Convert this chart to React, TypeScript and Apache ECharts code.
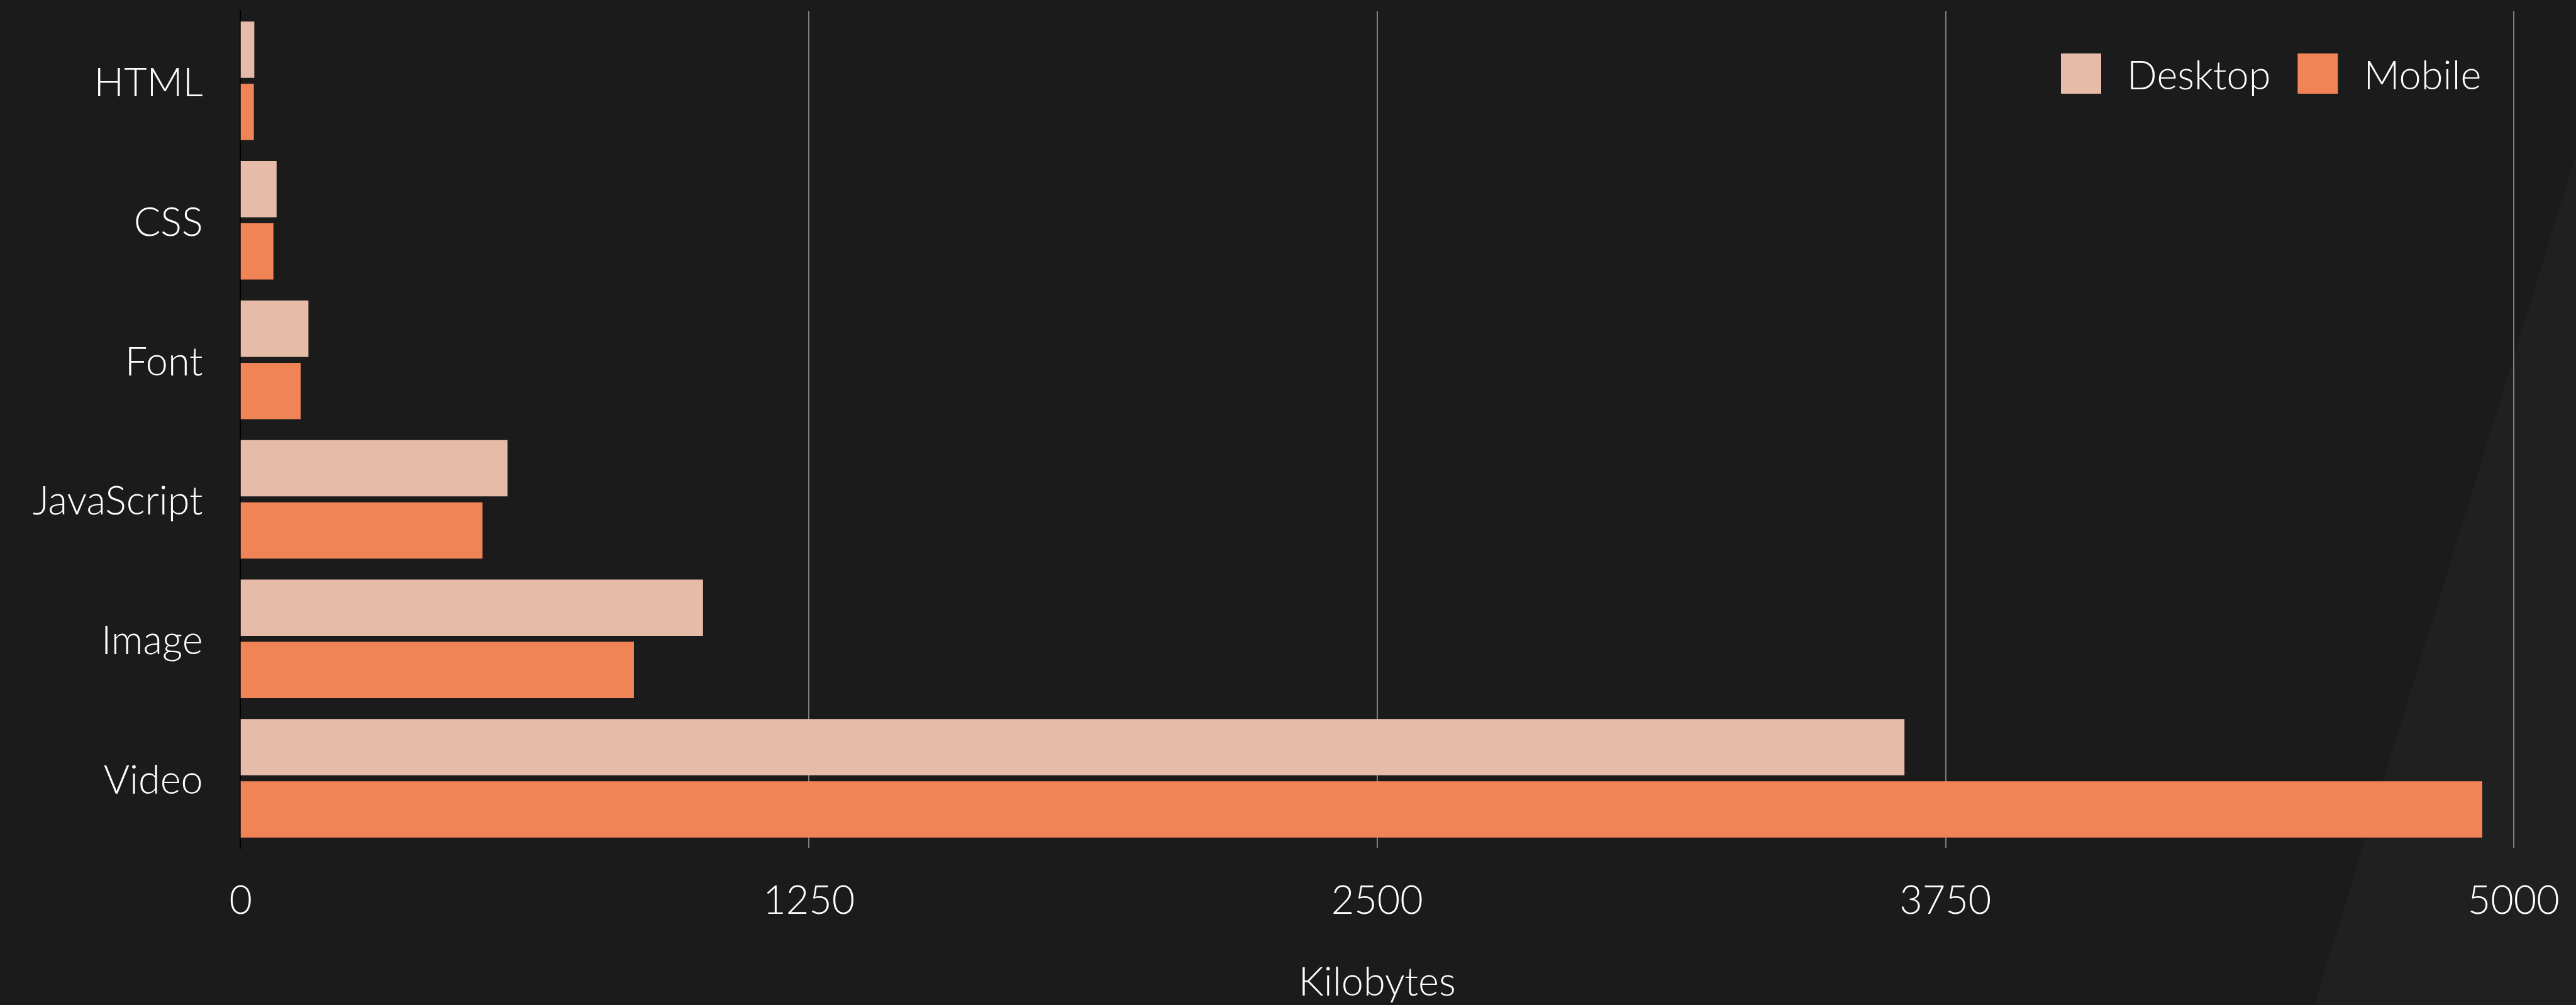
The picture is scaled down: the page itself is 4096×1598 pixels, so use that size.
import React, { useEffect, useRef } from "react";
import * as echarts from "echarts";

// Page weight per resource type, in kilobytes
const categories = ["HTML", "CSS", "Font", "JavaScript", "Image", "Video"];
const desktopKB = [30, 79, 149, 587, 1017, 3660];
const mobileKB = [29, 72, 132, 532, 865, 4931];
const seriesNames = ["Desktop", "Mobile"];
const xTicks = [0, 1250, 2500, 3750, 5000];

const W = 4096;
const H = 1598;
const FONT = "Lato, 'Noto Sans', sans-serif";
const FONT_SIZE = 63;
const TEXT = "#ffffff";
const BG = "#1b1b1b";
const DESKTOP_COLOR = "#e6bba8";
const MOBILE_COLOR = "#f08457";

export default function App() {
  const ref = useRef<HTMLDivElement>(null);

  useEffect(() => {
    if (!ref.current) return;
    const chart = echarts.init(ref.current, null, { renderer: "svg", width: W, height: H });

    const option = {
      animation: false,
      backgroundColor: BG,
      textStyle: { fontFamily: FONT },
      graphic: [
        {
          // lighter diagonal panel in the lower right corner
          type: "polygon",
          z: -10,
          silent: true,
          shape: {
            points: [
              [3680, 1598],
              [4096, 245],
              [4096, 1598],
            ],
          },
          style: { fill: "#202020" },
        },
      ],
      legend: {
        left: 3272,
        top: 80,
        itemWidth: 64,
        itemHeight: 64,
        itemGap: 43,
        icon: "rect",
        data: seriesNames,
        textStyle: {
          color: TEXT,
          fontFamily: FONT,
          fontSize: FONT_SIZE,
          fontWeight: 300,
          padding: [0, 0, 0, 36],
        },
      },
      grid: {
        left: 382.7,
        right: 99.2,
        top: 17.6,
        bottom: 249.5,
        containLabel: false,
      },
      xAxis: {
        type: "value",
        min: xTicks[0],
        max: xTicks[xTicks.length - 1],
        interval: xTicks[1] - xTicks[0],
        name: "Kilobytes",
        nameLocation: "middle",
        nameGap: 178,
        nameTextStyle: {
          color: TEXT,
          fontFamily: FONT,
          fontSize: FONT_SIZE,
          fontWeight: 300,
          lineHeight: FONT_SIZE,
        },
        axisLine: { show: false },
        axisTick: { show: false },
        axisLabel: {
          color: TEXT,
          fontFamily: FONT,
          fontSize: FONT_SIZE,
          fontWeight: 300,
          lineHeight: FONT_SIZE,
          margin: 48,
          formatter: (v: number) => String(v),
        },
        splitLine: {
          show: true,
          lineStyle: { color: "#a0a0a0", width: 1.5 },
        },
      },
      yAxis: {
        type: "category",
        inverse: true,
        data: categories,
        axisLine: { show: true, lineStyle: { color: "#000000", width: 2.6 } },
        axisTick: { show: false },
        axisLabel: {
          color: TEXT,
          fontFamily: FONT,
          fontSize: FONT_SIZE,
          fontWeight: 300,
          margin: 60,
        },
        splitLine: { show: false },
      },
      series: [
        {
          name: seriesNames[0],
          type: "bar",
          data: desktopKB,
          itemStyle: { color: DESKTOP_COLOR },
          barGap: "10.6%",
          barCategoryGap: "15%",
        },
        {
          name: seriesNames[1],
          type: "bar",
          data: mobileKB,
          itemStyle: { color: MOBILE_COLOR },
          barGap: "10.6%",
          barCategoryGap: "15%",
        },
      ],
    };

    chart.setOption(option);
    return () => chart.dispose();
  }, []);

  return (
    <div
      ref={ref}
      style={{ position: "fixed", left: 0, top: 0, width: W, height: H, background: BG }}
    />
  );
}
